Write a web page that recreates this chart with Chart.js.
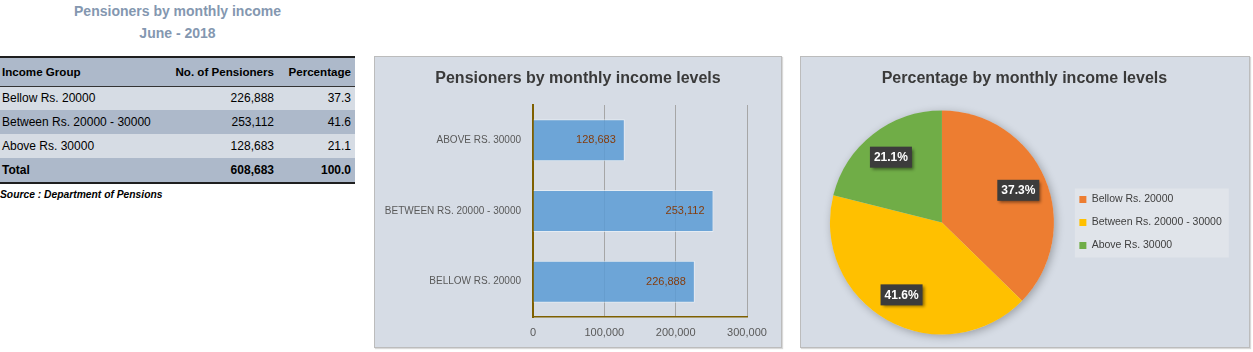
<!DOCTYPE html>
<html>
<head>
<meta charset="utf-8">
<title>Pensioners by monthly income</title>
<script src="https://cdn.jsdelivr.net/npm/chart.js@4/dist/chart.umd.min.js"></script>
<style>
  body { margin: 0; background: #fff; font-family: 'Liberation Sans', Arial, sans-serif; }
  #page-title { position: absolute; left: 0; top: 1px; width: 355px; text-align: center;
    font-weight: bold; font-size: 14px; line-height: 21.6px; color: #8497b0; }
  #tbl { position: absolute; left: 0; top: 56px; width: 355px; font-size: 12px; color: #000;
    border-top: 2px solid #1f1f1f; border-bottom: 2px solid #1f1f1f; }
  .row { display: flex; height: 24px; line-height: 24px; }
  .row.head { height: 28px; line-height: 28px; border-bottom: 1px solid #333; font-weight: bold; font-size: 11.6px; }
  .row.first { height: 23px; line-height: 23px; }
  .row.total { font-weight: bold; }
  .dark { background: #adb9ca; }
  .light { background: #d6dce4; }
  .c1 { width: 158px; padding-left: 2px; white-space: nowrap; }
  .c2 { width: 114px; padding-right: 2px; text-align: right; white-space: nowrap; }
  .c3 { width: 75px; padding-right: 4px; text-align: right; white-space: nowrap; }
  #source { position: absolute; left: 0; top: 187px; font-size: 10.3px; line-height: 15px;
    font-weight: bold; font-style: italic; color: #000; }
  .box { position: absolute; top: 56px; height: 292px; box-sizing: border-box;
    border: 1px solid #bcbcbc; background: #d6dce5; box-shadow: 1px 1px 1px rgba(0,0,0,0.15); }
  .box canvas { display: block; }
</style>
</head>
<body>
<div id="page-title">Pensioners by monthly income<br>June - 2018</div>
<div id="tbl"></div>
<div id="source">Source : Department of Pensions</div>

<div class="box" style="left:374px; width:408px;">
  <canvas id="barChart" width="406" height="290"></canvas>
</div>
<div class="box" style="left:800px; width:450px;">
  <canvas id="pieChart" width="448" height="290"></canvas>
</div>

<script>
const categories = ['Bellow Rs. 20000', 'Between Rs. 20000 - 30000', 'Above Rs. 30000'];
const pensioners = [226888, 253112, 128683];
const percentages = [37.3, 41.6, 21.1];
const xTicks = [0, 100000, 200000, 300000];
const sliceColors = ['#ed7d31', '#ffc000', '#70ad47'];

const FONT = "'Liberation Sans', Arial, sans-serif";
const fmt = (n) => n.toLocaleString('en-US');

// table
const tbl = document.getElementById('tbl');
let html = '<div class="row head dark"><div class="c1">Income Group</div>' +
  '<div class="c2">No. of Pensioners</div><div class="c3">Percentage</div></div>';
categories.forEach((cat, i) => {
  const cls = (i % 2 === 0 ? 'light' : 'dark') + (i === 0 ? ' first' : '');
  html += '<div class="row ' + cls + '"><div class="c1">' + cat + '</div>' +
    '<div class="c2">' + fmt(pensioners[i]) + '</div>' +
    '<div class="c3">' + percentages[i].toFixed(1) + '</div></div>';
});
const totalCount = pensioners.reduce((a, b) => a + b, 0);
const totalPct = percentages.reduce((a, b) => a + b, 0);
html += '<div class="row total dark"><div class="c1">Total</div>' +
  '<div class="c2">' + fmt(totalCount) + '</div><div class="c3">' + totalPct.toFixed(1) + '</div></div>';
tbl.innerHTML = html;

// value labels at the end of each bar
const barLabels = {
  id: 'barLabels',
  afterDatasetsDraw(chart) {
    const ctx = chart.ctx;
    const meta = chart.getDatasetMeta(0);
    ctx.save();
    ctx.font = '11px ' + FONT;
    ctx.fillStyle = '#843c0c';
    ctx.textAlign = 'right';
    ctx.textBaseline = 'middle';
    meta.data.forEach((bar, i) => {
      ctx.fillText(fmt(chart.data.datasets[0].data[i]), bar.x - 9, bar.y);
    });
    ctx.restore();
  }
};

const barCtx = document.getElementById('barChart').getContext('2d');
const barChart = new Chart(barCtx, {
  type: 'bar',
  data: {
    labels: categories,
    datasets: [{
      data: pensioners,
      backgroundColor: 'rgba(91,155,213,0.85)',
      borderColor: 'rgba(235,242,250,0.7)',
      borderWidth: 1,
      barPercentage: 0.595,
      categoryPercentage: 1
    }]
  },
  options: {
    indexAxis: 'y',
    responsive: false,
    animation: false,
    layout: { padding: 0 },
    plugins: {
      legend: { display: false },
      tooltip: { enabled: false },
      title: {
        display: true,
        text: 'Pensioners by monthly income levels',
        color: '#3a3a3a',
        font: { family: FONT, size: 16, weight: 'bold' },
        padding: { top: 12.4, bottom: 16.4 }
      }
    },
    scales: {
      x: {
        min: 0,
        max: 300000,
        afterBuildTicks: (scale) => { scale.ticks = xTicks.map(v => ({ value: v })); },
        afterFit: (scale) => { scale.height = 30; },
        ticks: { color: '#595959', font: { family: FONT, size: 11 }, padding: 9, callback: (v) => fmt(v) },
        grid: { color: '#a6a6a6', drawTicks: false },
        border: { color: '#7f6000', width: 1.5 }
      },
      y: {
        reverse: true,
        afterFit: (scale) => { scale.width = 158; },
        ticks: {
          color: '#595959',
          font: { family: FONT, size: 10 },
          padding: 12,
          callback: (v, i) => categories[i].toUpperCase()
        },
        grid: { display: false, drawTicks: false },
        border: { color: '#7f6000', width: 2 }
      },
      // empty right-hand axis: only reserves the space right of the plot
      yRight: {
        type: 'category',
        position: 'right',
        afterFit: (scale) => { scale.width = 34; },
        ticks: { display: false },
        grid: { display: false, drawTicks: false },
        border: { display: false }
      }
    }
  },
  plugins: [barLabels]
});

// legend backdrop, pie shadow and dark percentage boxes
const pieExtras = {
  id: 'pieExtras',
  beforeDraw(chart) {
    const lg = chart.legend;
    if (!lg || !lg.columnSizes) return;
    const pad = lg.options.labels.padding;
    const itemH = lg.options.labels.font.size;
    const colH = lg.columnSizes[0].height;
    const y0 = (lg.top + pad + lg.bottom - colH) / 2;
    const n = chart.data.labels.length;
    const top = y0 + itemH / 2 - 11;
    const bottom = y0 + (n - 1) * (itemH + pad) + itemH / 2 + 12;
    const ctx = chart.ctx;
    ctx.save();
    ctx.fillStyle = '#e0e4ea';
    ctx.fillRect(lg.left + 8, top, lg.width - 11, bottom - top);
    ctx.restore();
  },
  beforeDatasetsDraw(chart) {
    const arc = chart.getDatasetMeta(0).data[0];
    if (!arc) return;
    const ctx = chart.ctx;
    ctx.save();
    ctx.shadowColor = 'rgba(0,0,0,0.28)';
    ctx.shadowBlur = 9;
    ctx.shadowOffsetX = 2;
    ctx.shadowOffsetY = 2;
    ctx.fillStyle = '#d6dce5';
    ctx.beginPath();
    ctx.arc(arc.x, arc.y, arc.outerRadius, 0, Math.PI * 2);
    ctx.fill();
    ctx.restore();
  },
  afterDatasetsDraw(chart) {
    const ctx = chart.ctx;
    const meta = chart.getDatasetMeta(0);
    ctx.save();
    ctx.font = 'bold 12px ' + FONT;
    ctx.textAlign = 'center';
    ctx.textBaseline = 'middle';
    meta.data.forEach((arc, i) => {
      const mid = (arc.startAngle + arc.endAngle) / 2;
      const r = arc.outerRadius * 0.74;
      const x = arc.x + Math.cos(mid) * r;
      const y = arc.y + Math.sin(mid) * r;
      ctx.shadowColor = 'rgba(0,0,0,0.45)';
      ctx.shadowBlur = 3;
      ctx.shadowOffsetX = 2;
      ctx.shadowOffsetY = 2;
      ctx.fillStyle = '#3c3c3c';
      ctx.fillRect(x - 21, y - 10.5, 42, 21);
      ctx.shadowColor = 'transparent';
      ctx.fillStyle = '#ffffff';
      ctx.fillText(chart.data.datasets[0].data[i].toFixed(1) + '%', x, y + 0.5);
    });
    ctx.restore();
  }
};

const pieCtx = document.getElementById('pieChart').getContext('2d');
const pieChart = new Chart(pieCtx, {
  type: 'pie',
  data: {
    labels: categories,
    datasets: [{
      data: percentages,
      backgroundColor: sliceColors,
      borderWidth: 0
    }]
  },
  options: {
    responsive: false,
    animation: false,
    layout: { padding: { left: 16, right: 17.2, top: 0, bottom: 12.5 } },
    plugins: {
      tooltip: { enabled: false },
      title: {
        display: true,
        text: 'Percentage by monthly income levels',
        color: '#3a3a3a',
        font: { family: FONT, size: 16, weight: 'bold' },
        padding: { top: 12.4, bottom: 21.9 }
      },
      legend: {
        position: 'right',
        fullSize: false,
        labels: {
          boxWidth: 7,
          boxHeight: 7,
          padding: 12.5,
          color: '#404040',
          font: { family: FONT, size: 10.5 }
        }
      }
    }
  },
  plugins: [pieExtras]
});
</script>
</body>
</html>
